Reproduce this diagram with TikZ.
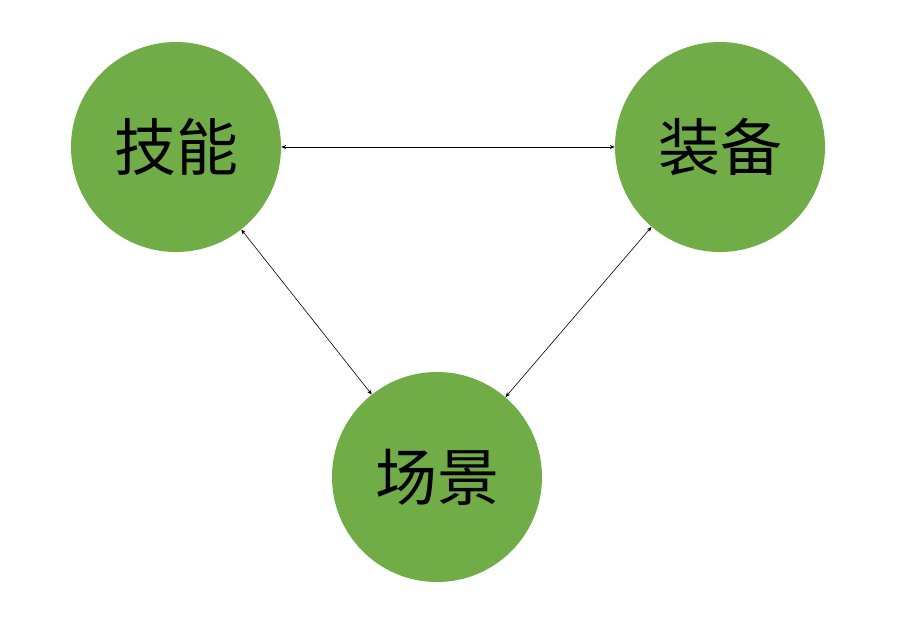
\documentclass[tikz,border=0pt]{standalone}
\usepackage{fontspec}
\newfontfamily\cjk{Noto Sans CJK SC}
\usetikzlibrary{arrows.meta}
\begin{document}
\begin{tikzpicture}[x=1pt,y=-1pt,
  ball/.style={circle,fill=green!45!black!20!green!60!black,fill={rgb,255:red,112;green,173;blue,71},minimum size=210pt,inner sep=0pt,font=\cjk\fontsize{62}{62}\selectfont},
  link/.style={{Stealth[length=5pt,width=4pt]}-{Stealth[length=5pt,width=4pt]},line width=0.6pt}]
\useasboundingbox (0,0) rectangle (900,638);
\node[ball] (a) at (176,147) {技能};
\node[ball] (b) at (720,147) {装备};
\node[ball] (c) at (437,477) {场景};
\draw[link] (a) -- (b);
\draw[link] (a) -- (c);
\draw[link] (b) -- (c);
\end{tikzpicture}
\end{document}
